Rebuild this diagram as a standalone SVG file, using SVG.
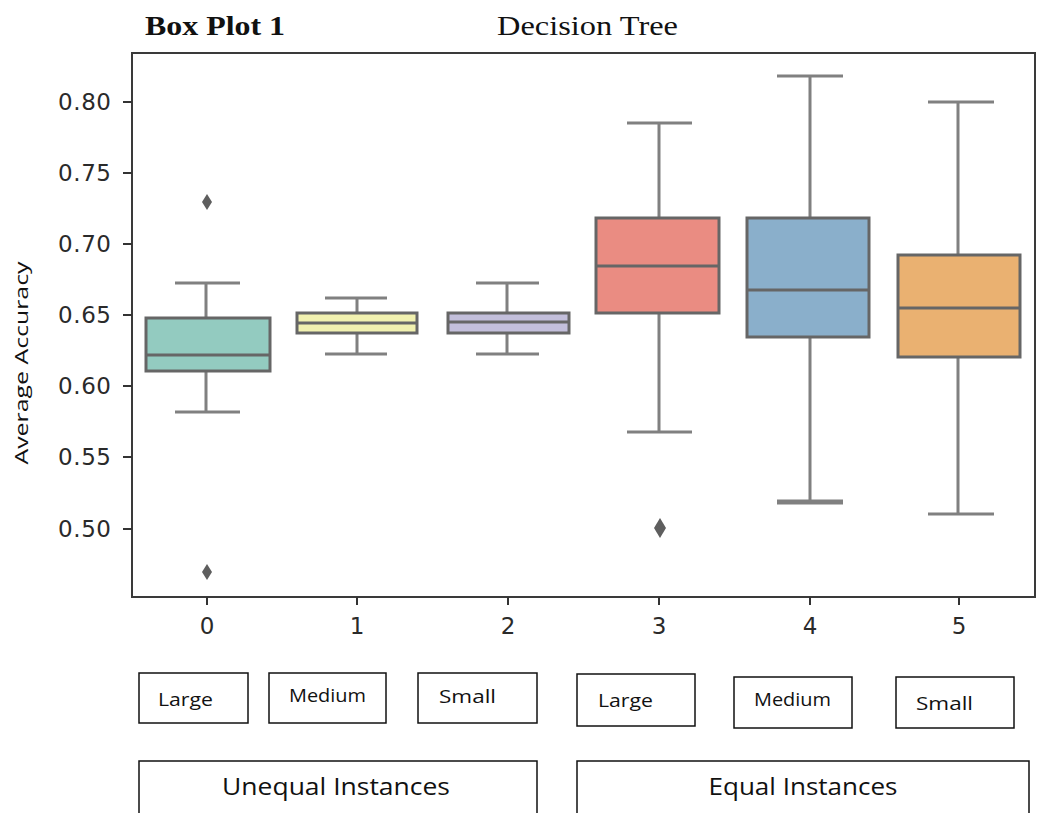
<svg xmlns="http://www.w3.org/2000/svg" width="1062" height="813" viewBox="0 0 1062 813">
<style>
.frame{fill:none;stroke:#3a3a3a;stroke-width:2}
.tick{stroke:#333;stroke-width:2}
.tl{font-family:"DejaVu Sans",sans-serif;font-size:23px;fill:#2a2a2a}
.box{stroke:#666;stroke-width:3}
.med{stroke:#666;stroke-width:3}
.wh{stroke:#808080;stroke-width:3;fill:none}
.out{fill:#5e5e5e}
.lbl{fill:#fff;stroke:#111;stroke-width:1.5}
.lt{font-family:"Open Sans","Liberation Sans",sans-serif;font-size:19px;fill:#111}
.bt{font-family:"Open Sans","Liberation Sans",sans-serif;font-size:23px;fill:#111;text-anchor:middle}
</style>
<rect width="1062" height="813" fill="#fff"/>
<text x="145" y="35" font-family="Liberation Serif,serif" font-weight="bold" font-size="27" fill="#111" textLength="140" lengthAdjust="spacingAndGlyphs">Box Plot 1</text>
<text x="497" y="35" font-family="Liberation Serif,serif" font-size="27" fill="#111" textLength="181" lengthAdjust="spacingAndGlyphs">Decision Tree</text>
<g id="axes">
<rect class="frame" x="132" y="53" width="903" height="544"/>
<g class="tick">
<line x1="123" y1="102" x2="132" y2="102"/><line x1="123" y1="173" x2="132" y2="173"/><line x1="123" y1="244" x2="132" y2="244"/><line x1="123" y1="315" x2="132" y2="315"/><line x1="123" y1="386" x2="132" y2="386"/><line x1="123" y1="457" x2="132" y2="457"/><line x1="123" y1="529" x2="132" y2="529"/>
<line x1="207" y1="597" x2="207" y2="605"/><line x1="357" y1="597" x2="357" y2="605"/><line x1="508" y1="597" x2="508" y2="605"/><line x1="659" y1="597" x2="659" y2="605"/><line x1="810" y1="597" x2="810" y2="605"/><line x1="959" y1="597" x2="959" y2="605"/>
</g>
<g class="tl" text-anchor="end">
<text x="111" y="110" textLength="53">0.80</text><text x="111" y="181" textLength="53">0.75</text><text x="111" y="252" textLength="53">0.70</text><text x="111" y="323" textLength="53">0.65</text><text x="111" y="394" textLength="53">0.60</text><text x="111" y="465" textLength="53">0.55</text><text x="111" y="537" textLength="53">0.50</text>
</g>
<g class="tl" text-anchor="middle">
<text x="207" y="634">0</text><text x="357" y="634">1</text><text x="508" y="634">2</text><text x="659" y="634">3</text><text x="810" y="634">4</text><text x="959" y="634">5</text>
</g>
<text transform="translate(28,363) rotate(-90)" text-anchor="middle" font-family="Open Sans,Liberation Sans,sans-serif" font-size="19" fill="#111" textLength="203" lengthAdjust="spacingAndGlyphs">Average Accuracy</text>
</g>
<g id="box0">
<path class="wh" d="M206 318V283M175 283H240M206 371V412M175 412H240"/>
<rect class="box" x="146" y="318" width="124" height="53" fill="#93cbc0"/>
<line class="med" x1="146" y1="355" x2="270" y2="355"/>
<path class="out" d="M207 194l5 8-5 8-5-8z"/>
<path class="out" d="M207 564l5 8-5 8-5-8z"/>
</g>
<g id="box1">
<path class="wh" d="M357 313V298M325 298H387M357 333V354M325 354H387"/>
<rect class="box" x="297" y="313" width="120" height="20" fill="#f1f1b0"/>
<line class="med" x1="297" y1="323" x2="417" y2="323"/>
</g>
<g id="box2">
<path class="wh" d="M507 313V283M476 283H539M507 333V354M476 354H539"/>
<rect class="box" x="448" y="313" width="121" height="20" fill="#c3bfdb"/>
<line class="med" x1="448" y1="322" x2="569" y2="322"/>
</g>
<g id="box3">
<path class="wh" d="M659 218V123M627 123H692M659 313V432M627 432H692"/>
<rect class="box" x="596" y="218" width="123" height="95" fill="#ea8c82"/>
<line class="med" x1="596" y1="266" x2="719" y2="266"/>
<path class="out" d="M660 518l6 10-6 10-6-10z"/>
</g>
<g id="box4">
<path class="wh" d="M810 218V76M777 76H843M810 337V502"/>
<line x1="777" y1="502" x2="843" y2="502" stroke="#808080" stroke-width="5"/>
<rect class="box" x="747" y="218" width="122" height="119" fill="#8aafcb"/>
<line class="med" x1="747" y1="290" x2="869" y2="290" stroke-width="4"/>
</g>
<g id="box5">
<path class="wh" d="M958 255V102M928 102H994M958 357V514M928 514H994"/>
<rect class="box" x="898" y="255" width="122" height="102" fill="#eab171"/>
<line class="med" x1="898" y1="308" x2="1020" y2="308"/>
</g>
<g id="label-large-1"><rect class="lbl" x="139" y="673" width="109" height="50"/><text class="lt" x="158" y="706" textLength="55" lengthAdjust="spacingAndGlyphs">Large</text></g>
<g id="label-medium-1"><rect class="lbl" x="269" y="673" width="117" height="50"/><text class="lt" x="289" y="702" textLength="77" lengthAdjust="spacingAndGlyphs">Medium</text></g>
<g id="label-small-1"><rect class="lbl" x="418" y="673" width="119" height="50"/><text class="lt" x="439" y="703" textLength="57" lengthAdjust="spacingAndGlyphs">Small</text></g>
<g id="label-large-2"><rect class="lbl" x="577" y="674" width="118" height="52"/><text class="lt" x="598" y="707" textLength="55" lengthAdjust="spacingAndGlyphs">Large</text></g>
<g id="label-medium-2"><rect class="lbl" x="734" y="677" width="118" height="51"/><text class="lt" x="754" y="706" textLength="77" lengthAdjust="spacingAndGlyphs">Medium</text></g>
<g id="label-small-2"><rect class="lbl" x="896" y="677" width="118" height="51"/><text class="lt" x="916" y="710" textLength="57" lengthAdjust="spacingAndGlyphs">Small</text></g>
<g id="group-unequal"><path class="lbl" d="M139 813V761H537V813"/><text class="bt" x="336" y="795" textLength="228" lengthAdjust="spacingAndGlyphs">Unequal Instances</text></g>
<g id="group-equal"><path class="lbl" d="M577 813V761H1029V813"/><text class="bt" x="803" y="795" textLength="189" lengthAdjust="spacingAndGlyphs">Equal Instances</text></g>
<g id="connectors"/>
</svg>
